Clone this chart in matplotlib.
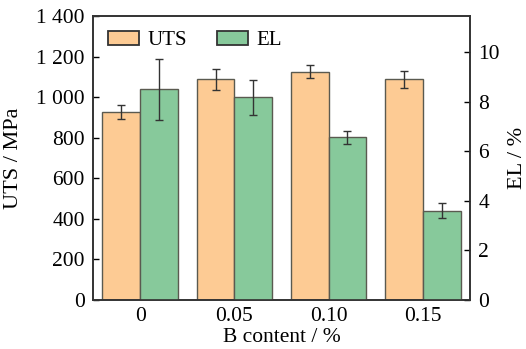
import matplotlib
matplotlib.use("Agg")
import matplotlib.pyplot as plt
import matplotlib.ticker as ticker
import numpy as np

categories = ["0", "0.05", "0.10", "0.15"]
uts = [928, 1089, 1125, 1088]
uts_err = [34, 52, 32, 42]
el = [8.50, 8.17, 6.56, 3.60]
el_err = [1.24, 0.70, 0.27, 0.31]

plt.rcParams["font.family"] = ["Liberation Serif", "DejaVu Serif"]
plt.rcParams["font.size"] = 15.5

fig = plt.figure(figsize=(5.26, 3.49), dpi=100)
ax = fig.add_axes([93 / 526, 1 - 300 / 349, 377 / 526, 284 / 349])
ax2 = ax.twinx()

x = np.arange(len(categories))
w = 0.4
orange = "#FDCB94"
green = "#87C99B"
edge = "#5a5a50"
errkw = dict(ecolor="#333333", elinewidth=1.0, capsize=3, capthick=1.0)

b1 = ax.bar(x - w / 2, uts, w, color=orange, edgecolor=edge, linewidth=1.0,
            yerr=uts_err, error_kw=errkw, label="UTS")
b2 = ax2.bar(x + w / 2, el, w, color=green, edgecolor=edge, linewidth=1.0,
             yerr=el_err, error_kw=errkw, label="EL")

ax.set_xlim(-0.5, 3.5)
ax.set_ylim(0, 1400)
ax2.set_ylim(0, 1400 / 122.2)
ax.set_yticks(np.arange(0, 1401, 200))
ax.yaxis.set_major_formatter(ticker.FuncFormatter(
    lambda v, p: f"{int(v):,}".replace(",", " ")))
ax2.set_yticks(np.arange(0, 11, 2))
ax.set_xticks(x)
ax.set_xticklabels(categories)

ax.tick_params(axis="y", direction="in", length=4, width=1, pad=6)
ax2.tick_params(axis="y", direction="in", length=4, width=1, pad=6)
ax.tick_params(axis="x", length=0, pad=5)

for a in (ax, ax2):
    for s in a.spines.values():
        s.set_linewidth(1.2)
        s.set_color("#333333")

ax.set_ylabel("UTS / MPa", fontsize=16)
ax2.set_ylabel("EL / %", fontsize=16)
ax.set_xlabel("B content / %")
ax.yaxis.set_label_coords(-0.186, 0.5)
ax2.yaxis.set_label_coords(1.100, 0.5)
ax.xaxis.set_label_coords(0.5, -0.097)

leg = ax.legend([b1, b2], ["UTS", "EL"], loc="upper left", ncol=2, frameon=False,
                handlelength=1.5, handleheight=0.7, columnspacing=1.45,
                handletextpad=0.4, borderaxespad=0.3, fontsize=15)
for h in leg.legend_handles:
    h.set_edgecolor("#333333")
    h.set_linewidth(1.3)

fig.savefig("out.png", dpi=100)
